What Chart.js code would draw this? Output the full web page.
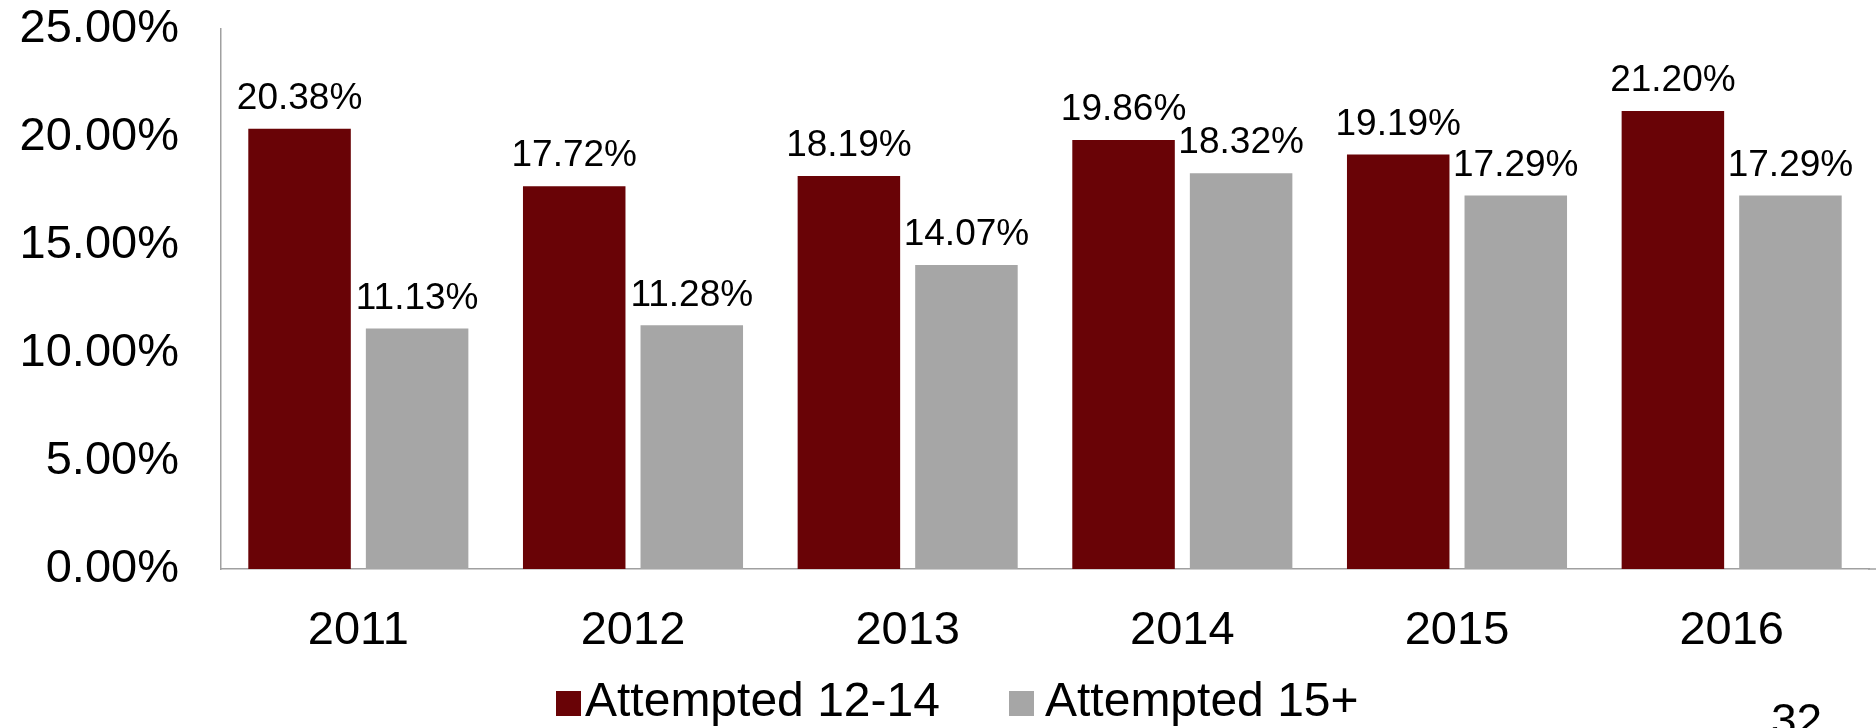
<!DOCTYPE html>
<html>
<head>
<meta charset="utf-8">
<script src="https://cdn.jsdelivr.net/npm/chart.js@4.4.1/dist/chart.umd.min.js"></script>
<style>
  html, body { margin: 0; padding: 0; background: #fff; }
  #wrap { width: 1876px; height: 728px; position: relative; }
</style>
</head>
<body>
<div id="wrap"><canvas id="chart"></canvas></div>
<script>
// Data
const years = ['2011', '2012', '2013', '2014', '2015', '2016'];
const attempted1214 = [20.38, 17.72, 18.19, 19.86, 19.19, 21.20];
const attempted15 = [11.13, 11.28, 14.07, 18.32, 17.29, 17.29];
const seriesNames = ['Attempted 12-14', 'Attempted 15+'];
const yTicks = [0, 5, 10, 15, 20, 25];
const pageNumber = '32';

const FONT = "'Liberation Sans', Arial, sans-serif";
const RED = '#690306';
const GREY = '#a6a6a6';
const AXIS = '#a0a0a0';

// Value labels above each bar
const valueLabels = {
    id: 'valueLabels',
    afterDatasetsDraw(chart) {
        const ctx = chart.ctx;
        ctx.save();
        ctx.font = '37px ' + FONT;
        ctx.fillStyle = '#000';
        ctx.textAlign = 'center';
        ctx.textBaseline = 'middle';
        chart.data.datasets.forEach((ds, i) => {
            chart.getDatasetMeta(i).data.forEach((bar, j) => {
                ctx.fillText(ds.data[j].toFixed(2) + '%', bar.x, bar.y - 30);
            });
        });
        ctx.restore();
    }
};

// Legend at bottom, axis extension and page number
const legendBoxX = [556, 1009];
const legendTextX = [585, 1045];

const extras = {
    id: 'extras',
    afterDraw(chart) {
        const ctx = chart.ctx;
        const area = chart.chartArea;
        ctx.save();
        // x axis line runs to the right edge
        ctx.strokeStyle = AXIS;
        ctx.lineWidth = 1.5;
        ctx.beginPath();
        ctx.moveTo(area.right - 1, area.bottom);
        ctx.lineTo(chart.width, area.bottom);
        ctx.stroke();

        ctx.font = '48px ' + FONT;
        ctx.textBaseline = 'alphabetic';
        ctx.textAlign = 'left';
        chart.data.datasets.forEach((ds, i) => {
            ctx.fillStyle = ds.backgroundColor;
            ctx.fillRect(legendBoxX[i], 691, 25, 25);
            ctx.fillStyle = '#000';
            ctx.fillText(ds.label, legendTextX[i], 716);
        });

        ctx.font = '46px ' + FONT;
        ctx.fillText(pageNumber, 1771, 736);
        ctx.restore();
    }
};

new Chart(document.getElementById('chart'), {
    type: 'bar',
    data: {
        labels: years,
        datasets: [
            { label: seriesNames[0], data: attempted1214, backgroundColor: RED },
            { label: seriesNames[1], data: attempted15, backgroundColor: GREY }
        ]
    },
    options: {
        responsive: true,
        maintainAspectRatio: false,
        animation: false,
        categoryPercentage: 0.856,
        barPercentage: 0.872,
        layout: { padding: { top: 29, right: 7, left: 0, bottom: 0 } },
        plugins: {
            legend: { display: false },
            tooltip: { enabled: false }
        },
        scales: {
            x: {
                grid: { display: false },
                border: { display: true, color: AXIS, width: 1.5 },
                ticks: { color: '#000', font: { family: FONT, size: 47 }, padding: 26, maxRotation: 0 },
                afterFit: (scale) => { scale.height = 159; }
            },
            y: {
                min: 0,
                max: 25,
                grid: { display: false },
                border: { display: true, color: AXIS, width: 1.5 },
                afterBuildTicks: (scale) => { scale.ticks = yTicks.map(v => ({ value: v })); },
                ticks: {
                    color: '#000',
                    font: { family: FONT, size: 47 },
                    padding: 34,
                    callback: (v) => Number(v).toFixed(2) + '%'
                },
                afterFit: (scale) => {
                    scale.width = 221;
                    scale.paddingTop = 0;
                    scale.paddingBottom = 0;
                }
            }
        }
    },
    plugins: [valueLabels, extras]
});
</script>
</body>
</html>
